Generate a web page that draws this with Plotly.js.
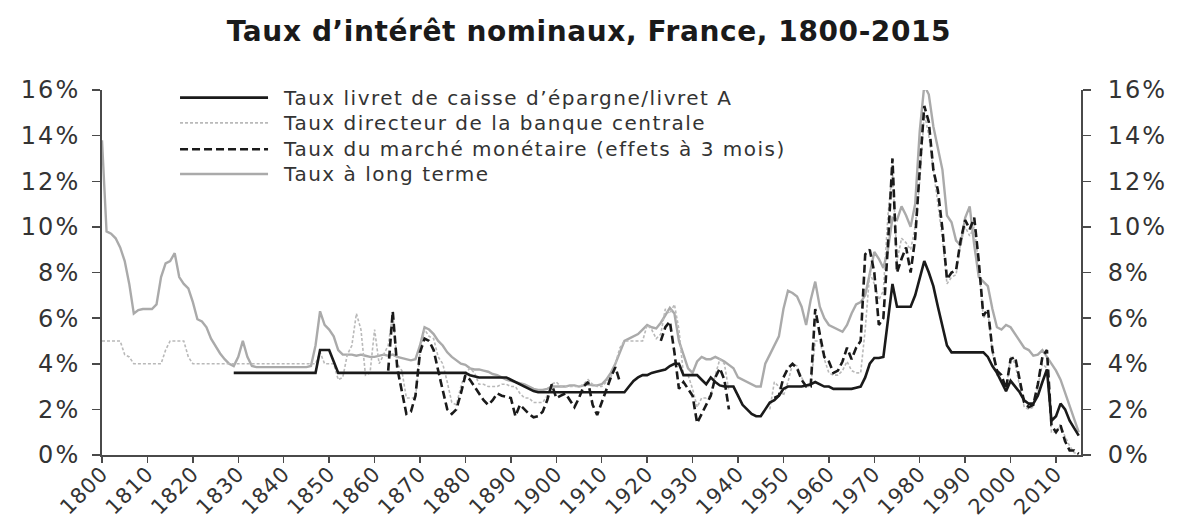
<!DOCTYPE html>
<html>
<head>
<meta charset="utf-8">
<script src="https://cdn.plot.ly/plotly-3.0.1.min.js"></script>
<style>html,body{margin:0;padding:0;background:#fff;}#chart{width:1178px;height:524px;}</style>
</head>
<body>
<div id="chart"></div>
<script>
// Series names
const seriesNames = [
  "Taux livret de caisse d’épargne/livret A",
  "Taux directeur de la banque centrale",
  "Taux du marché monétaire (effets à 3 mois)",
  "Taux à long terme"
];
const chartTitle = "Taux d’intérêt nominaux, France, 1800-2015";

// Years 1800..2015 (one value per year in each series below)
const firstYear = 1800;
const lastYear = 2015;
const years = [];
for (let y = firstYear; y <= lastYear; y++) years.push(y);

const N = null;

// Taux à long terme (%)
const longTerm = [
  13.8, 9.8, 9.7, 9.5, 9.1, 8.5, 7.5, 6.2, 6.35, 6.4,      // 1800s
  6.4, 6.4, 6.6, 7.8, 8.4, 8.5, 8.85, 7.8, 7.5, 7.3,       // 1810s
  6.7, 5.95, 5.85, 5.6, 5.1, 4.75, 4.45, 4.2, 4.0, 3.9,    // 1820s
  4.3, 5.0, 4.3, 3.9, 3.85, 3.85, 3.85, 3.85, 3.85, 3.85,  // 1830s
  3.85, 3.85, 3.85, 3.85, 3.85, 3.85, 3.9, 4.8, 6.3, 5.7,  // 1840s
  5.5, 5.2, 4.6, 4.4, 4.4, 4.4, 4.35, 4.4, 4.35, 4.3,      // 1850s
  4.3, 4.35, 4.4, 4.35, 4.4, 4.3, 4.25, 4.2, 4.15, 4.2,    // 1860s
  4.8, 5.6, 5.5, 5.3, 5.0, 4.8, 4.5, 4.3, 4.15, 4.0,       // 1870s
  3.95, 3.8, 3.75, 3.75, 3.7, 3.65, 3.55, 3.5, 3.4, 3.3,   // 1880s
  3.25, 3.2, 3.15, 3.1, 3.0, 2.9, 2.85, 2.85, 2.9, 3.0,    // 1890s
  3.0, 3.0, 3.0, 3.05, 3.05, 3.0, 3.05, 3.1, 3.05, 3.05,   // 1900s
  3.1, 3.3, 3.6, 4.0, 4.5, 5.0, 5.1, 5.2, 5.3, 5.5,        // 1910s
  5.7, 5.6, 5.55, 5.8, 6.1, 6.45, 6.2, 5.0, 4.4, 3.8,      // 1920s
  3.6, 4.1, 4.3, 4.2, 4.2, 4.3, 4.2, 4.1, 3.95, 3.8,       // 1930s
  3.4, 3.3, 3.2, 3.1, 3.0, 3.0, 4.0, 4.4, 4.8, 5.2,        // 1940s
  6.4, 7.2, 7.1, 6.95, 6.5, 5.7, 6.8, 7.6, 6.5, 6.0,       // 1950s
  5.7, 5.6, 5.5, 5.4, 5.7, 6.2, 6.6, 6.7, 7.0, 8.0,        // 1960s
  8.9, 8.6, 8.2, 9.0, 10.4, 10.3, 10.9, 10.5, 10.0, 11.0,  // 1970s
  14.2, 16.2, 15.8, 14.4, 13.4, 12.5, 10.5, 10.2, 9.4, 9.2,// 1980s
  10.4, 10.9, 9.2, 7.8, 7.6, 7.4, 6.4, 5.6, 5.5, 5.7,      // 1990s
  5.6, 5.3, 5.0, 4.7, 4.6, 4.35, 4.4, 4.6, 4.3, 4.0,       // 2000s
  3.7, 3.3, 2.7, 2.2, 1.6, 1.0                             // 2010s
];

// Taux livret de caisse d'épargne / livret A (%)
const livretA = [
  N, N, N, N, N, N, N, N, N, N,
  N, N, N, N, N, N, N, N, N, N,
  N, N, N, N, N, N, N, N, N, 3.6,
  3.6, 3.6, 3.6, 3.6, 3.6, 3.6, 3.6, 3.6, 3.6, 3.6,
  3.6, 3.6, 3.6, 3.6, 3.6, 3.6, 3.6, 3.6, 4.6, 4.6,
  4.6, 4.1, 3.6, 3.6, 3.6, 3.6, 3.6, 3.6, 3.6, 3.6,
  3.6, 3.6, 3.6, 3.6, 3.6, 3.6, 3.6, 3.6, 3.6, 3.6,
  3.6, 3.6, 3.6, 3.6, 3.6, 3.6, 3.6, 3.6, 3.6, 3.6,
  3.6, 3.5, 3.45, 3.4, 3.4, 3.4, 3.4, 3.4, 3.4, 3.4,
  3.3, 3.2, 3.1, 3.0, 2.9, 2.8, 2.75, 2.75, 2.75, 2.75,
  2.75, 2.75, 2.75, 2.75, 2.75, 2.75, 2.75, 2.75, 2.75, 2.75,
  2.75, 2.75, 2.75, 2.75, 2.75, 2.75, 3.0, 3.25, 3.4, 3.5,
  3.5, 3.6, 3.65, 3.7, 3.75, 3.9, 4.0, 4.0, 3.5, 3.5,
  3.5, 3.5, 3.3, 3.1, 3.4, 3.2, 3.05, 3.0, 3.0, 3.0,
  2.6, 2.2, 2.0, 1.8, 1.7, 1.7, 2.0, 2.3, 2.4, 2.6,
  2.9, 3.0, 3.0, 3.0, 3.0, 3.05, 3.1, 3.2, 3.1, 3.0,
  3.0, 2.9, 2.9, 2.9, 2.9, 2.9, 2.95, 3.0, 3.4, 4.0,
  4.25, 4.25, 4.3, 6.0, 7.5, 6.5, 6.5, 6.5, 6.5, 7.0,
  7.8, 8.5, 8.0, 7.4, 6.5, 5.6, 4.8, 4.5, 4.5, 4.5,
  4.5, 4.5, 4.5, 4.5, 4.5, 4.3, 3.9, 3.6, 3.2, 2.8,
  3.25, 3.0, 2.75, 2.4, 2.25, 2.25, 2.6, 3.2, 3.75, 1.5,
  1.7, 2.25, 2.0, 1.5, 1.2, 0.85
];

// Taux du marché monétaire, effets à 3 mois (%)
const moneyMarket = [
  N, N, N, N, N, N, N, N, N, N,
  N, N, N, N, N, N, N, N, N, N,
  N, N, N, N, N, N, N, N, N, N,
  N, N, N, N, N, N, N, N, N, N,
  N, N, N, N, N, N, N, N, N, N,
  N, N, N, N, N, N, N, N, N, N,
  N, N, N, 3.7, 6.3, 3.8, 2.8, 1.8, 1.9, 2.6,
  4.5, 5.1, 5.0, 4.6, 3.7, 2.8, 2.0, 1.8, 2.0, 2.7,
  3.5, 3.3, 3.0, 2.7, 2.4, 2.2, 2.4, 2.7, 2.6, 2.55,
  2.5, 1.7, 2.2, 2.0, 1.8, 1.65, 1.7, 1.9, 2.4, 3.1,
  2.5, 2.6, 2.7, 2.4, 2.1, 2.5, 3.0, 3.2, 2.2, 1.75,
  2.3, 2.8, 3.4, 3.85, 3.2, N, N, N, N, N,
  N, N, N, 5.0, 5.6, 5.85, 4.5, 2.9, 3.2, 2.9,
  2.6, 1.4, 1.8, 2.2, 2.6, 3.4, 3.8, 3.3, 2.0, N,
  N, N, N, N, N, N, N, N, 2.5, 2.6,
  3.4, 3.8, 4.0, 3.8, 3.3, 3.0, 3.0, 6.4, 5.3, 4.3,
  4.1, 3.6, 3.7, 4.1, 4.7, 4.2, 4.7, 5.0, 8.8, 9.0,
  8.0, 5.7, 6.0, 9.2, 13.0, 8.0, 8.6, 9.1, 8.0, 9.5,
  12.5, 15.3, 14.6, 12.5, 11.6, 9.9, 7.7, 8.0, 8.1, 9.4,
  10.3, 9.9, 10.4, 8.5, 6.1, 6.4, 4.6, 3.7, 3.5, 2.9,
  4.2, 4.3, 3.3, 2.3, 2.1, 2.2, 3.1, 4.3, 4.6, 1.3,
  1.0, 1.3, 0.6, 0.2, 0.2, 0.05
];

// Taux directeur de la banque centrale (%)
const policyRate = [
  5.0, 5.0, 5.0, 5.0, 5.0, 4.4, 4.3, 4.0, 4.0, 4.0,
  4.0, 4.0, 4.0, 4.0, 4.6, 5.0, 5.0, 5.0, 5.0, 4.3,
  4.0, 4.0, 4.0, 4.0, 4.0, 4.0, 4.0, 4.0, 4.0, 4.0,
  4.0, 4.0, 4.0, 4.0, 4.0, 4.0, 4.0, 4.0, 4.0, 4.0,
  4.0, 4.0, 4.0, 4.0, 4.0, 4.0, 4.0, 4.0, 4.5, 4.0,
  4.0, 4.0, 3.3, 3.4, 4.4, 4.8, 6.2, 5.5, 3.5, 3.6,
  5.5, 4.0, 4.4, 4.8, 6.2, 4.0, 3.7, 2.5, 2.5, 2.5,
  4.5, 5.5, 5.2, 5.1, 4.3, 4.0, 3.2, 2.3, 2.2, 3.0,
  3.6, 3.8, 3.6, 3.1, 3.1, 3.0, 3.0, 3.0, 3.1, 3.1,
  3.0, 3.0, 2.7, 2.5, 2.5, 2.3, 2.3, 2.3, 2.6, 3.1,
  3.2, 3.0, 3.0, 3.0, 3.0, 3.0, 3.1, 3.3, 3.1, 3.0,
  3.0, 3.2, 3.4, 4.0, 4.7, 5.0, 5.0, 5.0, 5.0, 5.0,
  5.7, 5.5, 5.1, 5.3, 6.4, 6.2, 6.6, 5.5, 3.5, 3.5,
  2.9, 2.1, 2.5, 2.5, 2.6, 3.5, 4.2, 4.0, 2.8, N,
  N, N, N, N, N, N, N, 2.0, 3.2, 3.0,
  2.6, 3.2, 4.0, 3.9, 3.4, 3.0, 3.0, 5.0, 5.0, 4.2,
  3.6, 3.5, 3.5, 3.7, 4.1, 3.7, 3.6, 3.6, 5.5, 8.0,
  7.5, 6.8, 7.2, 10.5, 12.5, 8.5, 9.5, 9.3, 9.0, 10.0,
  12.0, 15.0, 14.0, 12.5, 11.0, 9.5, 7.5, 7.8, 7.9, 9.3,
  10.0, 9.6, 10.0, 8.3, 6.0, 6.3, 4.5, 3.5, 3.3, 2.8,
  4.3, 4.0, 3.0, 2.1, 2.0, 2.1, 3.0, 4.0, 3.8, 1.0,
  1.0, 1.3, 0.8, 0.4, 0.1, 0.05
];

// Axis ticks
const xTickVals = [1800,1810,1820,1830,1840,1850,1860,1870,1880,1890,1900,1910,1920,1930,1940,1950,1960,1970,1980,1990,2000,2010];
const xTickText = ["1800","1810","1820","1830","1840","1850","1860","1870","1880","1890","1900","1910","1920","1930","1940","1950","1960","1970","1980","1990","2000","2010"];
const yTickVals = [0,2,4,6,8,10,12,14,16];
const yTickText = ["0%","2%","4%","6%","8%","10%","12%","14%","16%"];

const FONT = "DejaVu Sans, Liberation Sans, sans-serif";
const spaced = (t, px) => '<span style="letter-spacing:' + px + 'px">' + t + '</span>';

const styles = {
  livret: {color: "#1a1a1a", width: 2.6, dash: "solid"},
  policy: {color: "#b9b9b9", width: 1.6, dash: "3px,2px"},
  money:  {color: "#1a1a1a", width: 2.6, dash: "8px,4px"},
  long:   {color: "#aaaaaa", width: 2.4, dash: "solid"}
};

const traces = [
  {x: years, y: longTerm, name: seriesNames[3], type: "scatter", mode: "lines", line: styles.long, connectgaps: false, showlegend: false},
  {x: years, y: policyRate, name: seriesNames[1], type: "scatter", mode: "lines", line: styles.policy, connectgaps: false, showlegend: false},
  {x: years, y: livretA, name: seriesNames[0], type: "scatter", mode: "lines", line: styles.livret, connectgaps: false, showlegend: false},
  {x: years, y: moneyMarket, name: seriesNames[2], type: "scatter", mode: "lines", line: styles.money, connectgaps: false, showlegend: false, yaxis: "y2"}
];

// Manual legend (paper coordinates)
const legendRows = [
  {name: seriesNames[0], style: styles.livret, y: 0.979},
  {name: seriesNames[1], style: styles.policy, y: 0.910},
  {name: seriesNames[2], style: styles.money, y: 0.8375},
  {name: seriesNames[3], style: styles.long, y: 0.770}
];
const shapes = legendRows.map(r => ({
  type: "line", xref: "paper", yref: "paper",
  x0: 0.0797, x1: 0.1696, y0: r.y, y1: r.y,
  line: {color: r.style.color, width: r.style.width, dash: r.style.dash}
}));
const annotations = legendRows.map(r => ({
  xref: "paper", yref: "paper", x: 0.1826, y: r.y, xanchor: "left", yanchor: "middle",
  text: spaced(r.name, 1.5), showarrow: false, font: {family: FONT, size: 20, color: "#333"}
}));

const axisCommon = {
  showgrid: false, zeroline: false, showline: true,
  linecolor: "#4a4a4a", linewidth: 2,
  ticks: "outside", ticklen: 8, tickwidth: 1.5, tickcolor: "#4a4a4a",
  tickfont: {family: FONT, size: 24, color: "#333"}
};

const layout = {
  width: 1178, height: 524,
  paper_bgcolor: "#fff", plot_bgcolor: "#fff",
  margin: {l: 102, r: 97, t: 90, b: 69},
  title: {text: spaced(chartTitle, 0.6), x: 0.5, xanchor: "center", y: 0.94, yanchor: "middle",
          font: {family: FONT, size: 28, color: "#1a1a1a", weight: "bold"}},
  xaxis: Object.assign({}, axisCommon, {
    range: [1800, 2015.5], tickvals: xTickVals, ticktext: xTickText.map(t => spaced(t, 1)), tickangle: -45,
    ticklen: 6, ticklabelstandoff: -10,
    tickfont: {family: FONT, size: 21, color: "#333"}
  }),
  yaxis: Object.assign({}, axisCommon, {
    range: [0, 16], tickvals: yTickVals, ticktext: yTickText.map(t => spaced(t, 2)), ticklabelstandoff: 7
  }),
  yaxis2: Object.assign({}, axisCommon, {
    range: [0, 16], tickvals: yTickVals, ticktext: yTickText.map(t => spaced(t, 2)), overlaying: "y", side: "right", ticklabelstandoff: 12
  }),
  shapes: shapes,
  annotations: annotations,
  showlegend: false
};

Plotly.newPlot("chart", traces, layout, {displayModeBar: false, staticPlot: true});
</script>
</body>
</html>
